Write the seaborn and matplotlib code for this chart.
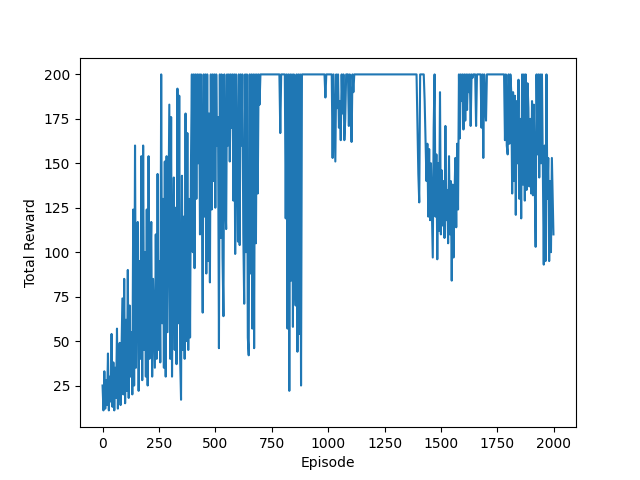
import numpy as np
import pandas as pd
import matplotlib
matplotlib.use("Agg")
import matplotlib.pyplot as plt
import seaborn as sns

seg_a = [25, 11, 33, 12, 28, 14, 43, 11, 30, 16, 54, 13, 38, 11, 35, 18, 57, 12, 40, 49,
         14, 45, 74, 20, 85, 15, 62, 22, 90, 18, 70, 30, 55, 20, 124, 25, 160, 35, 80, 117,
         22, 95, 40, 154, 28, 160, 45, 100, 30, 124, 25, 154, 40, 90, 117, 30, 85, 60, 35, 110,
         40, 144, 45, 95, 38, 200, 60, 130, 35, 151, 30, 154, 55, 120, 183, 40, 176, 30, 100, 142,
         45, 125, 37, 192, 60, 188, 40, 17, 143, 45, 120, 40, 178, 50, 167, 45, 130, 52, 150, 200]
seg_b = [100, 200, 91, 200, 130, 200, 150, 200, 110, 200, 140, 66, 200, 120, 200, 88, 200, 95, 178, 83,
         200, 124, 200, 140, 200, 125, 200, 160, 176, 46, 200, 108, 200, 97, 64, 200, 130, 113, 200, 160,
         200, 151, 200, 170, 200, 129, 200, 99, 200, 150, 106, 200, 104, 200, 160, 200, 110, 71, 200, 100,
         200, 52, 42, 200, 88, 200, 57, 200, 46, 200, 105, 200, 133, 200, 183]
flat_1 = [200] * 22
dip_1 = [167]
flat_2 = [200] * 4
seg_c = [200, 119, 200, 57, 200, 22, 200, 84, 200, 58, 200, 93, 70, 200, 44, 200, 54, 200, 25, 200]
flat_3 = [200] * 25
dip_2 = [187]
flat_4 = [200] * 6
seg_d = [200, 153, 200, 175, 151, 200, 181, 200, 170, 185, 163, 200, 178, 200, 163, 175, 200, 200, 200, 171,
         200, 185, 162, 200, 190, 200]
flat_5 = [200] * 68
seg_e = [200, 171, 144, 128, 200, 200, 200, 200, 200, 185, 163, 140, 161, 120, 158, 118, 150, 125, 97, 170,
         200, 120, 155, 96, 150, 112, 190, 110, 146, 115, 140, 108, 171, 118, 135, 105, 154, 110, 140, 84,
         138, 97, 130, 153, 114, 161, 124, 200, 164, 200, 185, 200, 169, 200, 174, 200, 180, 200, 190, 200,
         171, 200, 198, 200, 200, 200, 171, 200, 200, 200, 200, 200, 170, 200, 153, 200, 185, 174, 200]
flat_6 = [200] * 19
seg_f = [163, 200, 160, 155, 200, 161, 200, 190, 133, 190, 140, 188, 121, 185, 150, 197, 130, 175, 119, 200,
         138, 200, 129, 200, 135, 195, 181, 137, 175, 133, 185, 132, 183, 140, 103, 200, 155, 200, 142, 200,
         150, 200, 145, 93, 160, 95, 200, 130, 153, 95, 140, 100, 153, 110]

rewards = (seg_a + seg_b + flat_1 + dip_1 + flat_2 + seg_c + flat_3 + dip_2 + flat_4
           + seg_d + flat_5 + seg_e + flat_6 + seg_f)
episodes = np.arange(len(rewards)) * 4
episodes[-1] = 1999

df = pd.DataFrame({"Episode": episodes, "Total Reward": rewards})

fig, ax = plt.subplots(figsize=(6.4, 4.8), dpi=100)
sns.lineplot(data=df, x="Episode", y="Total Reward", ax=ax, estimator=None,
             color="#1f77b4", linewidth=1.5)
ax.set_xlim(-99.95, 2098.95)
ax.set_xlabel("Episode")
ax.set_ylabel("Total Reward")
fig.savefig("out.png", dpi=100)
